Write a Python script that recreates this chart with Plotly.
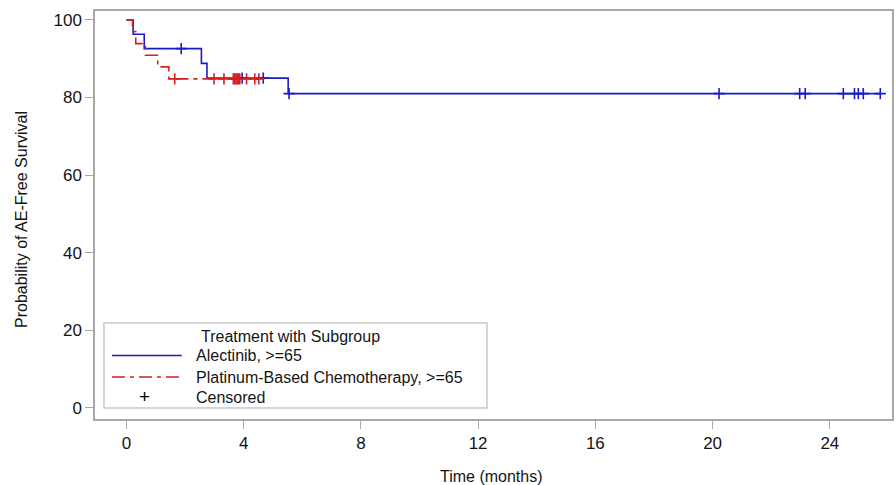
import plotly.graph_objects as go

# ---- data ----
alec_times = [0.0, 0.23, 0.61, 2.56, 2.75, 5.52]
alec_surv = [100.0, 96.3, 92.6, 88.8, 85.0, 81.0]
alec_end = 25.72
alec_cens_t = [1.87, 3.95, 4.67, 5.55, 20.22, 22.97, 23.16, 24.46, 24.84, 24.97, 25.14, 25.72]
alec_cens_s = [92.6, 85.0, 85.0, 81.0, 81.0, 81.0, 81.0, 81.0, 81.0, 81.0, 81.0, 81.0]

chemo_times = [0.0, 0.21, 0.32, 0.65, 1.07, 1.45]
chemo_surv = [100.0, 97.0, 93.9, 90.9, 87.9, 84.8]
chemo_end = 4.52
chemo_cens_t = [1.65, 2.99, 3.33, 3.65, 3.70, 3.74, 3.78, 3.83, 3.87, 4.10, 4.38, 4.52]
chemo_cens_s = [84.8] * len(chemo_cens_t)

x_ticks = [0, 4, 8, 12, 16, 20, 24]
y_ticks = [0, 20, 40, 60, 80, 100]

legend_title = "Treatment with Subgroup"
legend_names = ["Alectinib, >=65", "Platinum-Based Chemotherapy, >=65", "Censored"]

BLUE = "#1c1cc4"
RED = "#d42020"
TXT = "#141414"
FONT = "Liberation Sans, Arial, sans-serif"

W, H = 896, 485
L, R, T, B = 95, 894, 11, 419

fig = go.Figure()

fig.add_trace(go.Scatter(
    x=alec_times + [alec_end], y=alec_surv + [alec_surv[-1]],
    mode="lines", line=dict(color=BLUE, width=1.6, shape="hv"),
    showlegend=False, hoverinfo="skip"))
fig.add_trace(go.Scatter(
    x=alec_cens_t, y=alec_cens_s, mode="markers",
    marker=dict(symbol="cross-thin", size=8, line=dict(color=BLUE, width=1.6)),
    showlegend=False, hoverinfo="skip"))

fig.add_trace(go.Scatter(
    x=chemo_times + [chemo_end], y=chemo_surv + [chemo_surv[-1]],
    mode="lines", line=dict(color=RED, width=1.6, shape="hv", dash="13px,5px,4px,5px"),
    showlegend=False, hoverinfo="skip"))
fig.add_trace(go.Scatter(
    x=chemo_cens_t, y=chemo_cens_s, mode="markers",
    marker=dict(symbol="cross-thin", size=8, line=dict(color=RED, width=1.6)),
    showlegend=False, hoverinfo="skip"))

def px_x(p):
    return (p - L) / (R - L)

def px_y(p):
    return (B - p) / (B - T)

shapes = []
annotations = []

# legend box
shapes.append(dict(type="rect", xref="paper", yref="paper",
                   x0=px_x(104), x1=px_x(488), y0=px_y(408), y1=px_y(323),
                   line=dict(color="#c8c8c8", width=1.5), fillcolor="white", layer="above"))
shapes.append(dict(type="line", xref="paper", yref="paper",
                   x0=px_x(112), x1=px_x(182), y0=px_y(355.5), y1=px_y(355.5),
                   line=dict(color=BLUE, width=1.6), layer="above"))
shapes.append(dict(type="line", xref="paper", yref="paper",
                   x0=px_x(112), x1=px_x(182), y0=px_y(377), y1=px_y(377),
                   line=dict(color=RED, width=1.6, dash="13px,5px,4px,5px"), layer="above"))

annotations.append(dict(text=legend_title, xref="paper", yref="paper",
                        x=px_x(291), y=px_y(336), xanchor="center", yanchor="middle",
                        showarrow=False, font=dict(family=FONT, size=16, color=TXT)))
for name, yy in zip(legend_names, [355, 377, 397]):
    annotations.append(dict(text=name, xref="paper", yref="paper",
                            x=px_x(194), y=px_y(yy), xanchor="left", yanchor="middle",
                            showarrow=False, font=dict(family=FONT, size=16, color=TXT)))
annotations.append(dict(text="+", xref="paper", yref="paper",
                        x=px_x(145), y=px_y(396), xanchor="center", yanchor="middle",
                        showarrow=False, font=dict(family=FONT, size=19, color="#000")))

# axis titles
annotations.append(dict(text="Time (months)", xref="paper", yref="paper",
                        x=px_x(492), y=0, xanchor="center", yanchor="middle", yshift=-57,
                        showarrow=False, font=dict(family=FONT, size=16, color=TXT)))
annotations.append(dict(text="Probability of AE-Free Survival", xref="paper", yref="paper",
                        x=0, y=px_y(220), xanchor="center", yanchor="middle", xshift=-73,
                        textangle=-90, showarrow=False,
                        font=dict(family=FONT, size=16, color=TXT)))

fig.update_layout(
    width=W, height=H,
    margin=dict(l=L, r=W - R, t=T, b=H - B, pad=0),
    paper_bgcolor="white", plot_bgcolor="white",
    shapes=shapes, annotations=annotations,
    showlegend=False,
)

fig.update_xaxes(range=[-1.07, 26.12], tickvals=x_ticks, ticks="outside", ticklen=8,
                 tickcolor="#a8a8a8", tickwidth=1.2, showline=True, linecolor="#a8a8a8",
                 linewidth=1.5, mirror=True, showgrid=False, zeroline=False,
                 tickfont=dict(family=FONT, size=17, color=TXT))
fig.update_yaxes(range=[-2.9, 102.3], tickvals=y_ticks, ticks="outside", ticklen=8,
                 tickcolor="#a8a8a8", tickwidth=1.2, showline=True, linecolor="#a8a8a8",
                 linewidth=1.5, mirror=True, showgrid=False, zeroline=False,
                 tickfont=dict(family=FONT, size=17, color=TXT))

fig.write_html("out.html")
